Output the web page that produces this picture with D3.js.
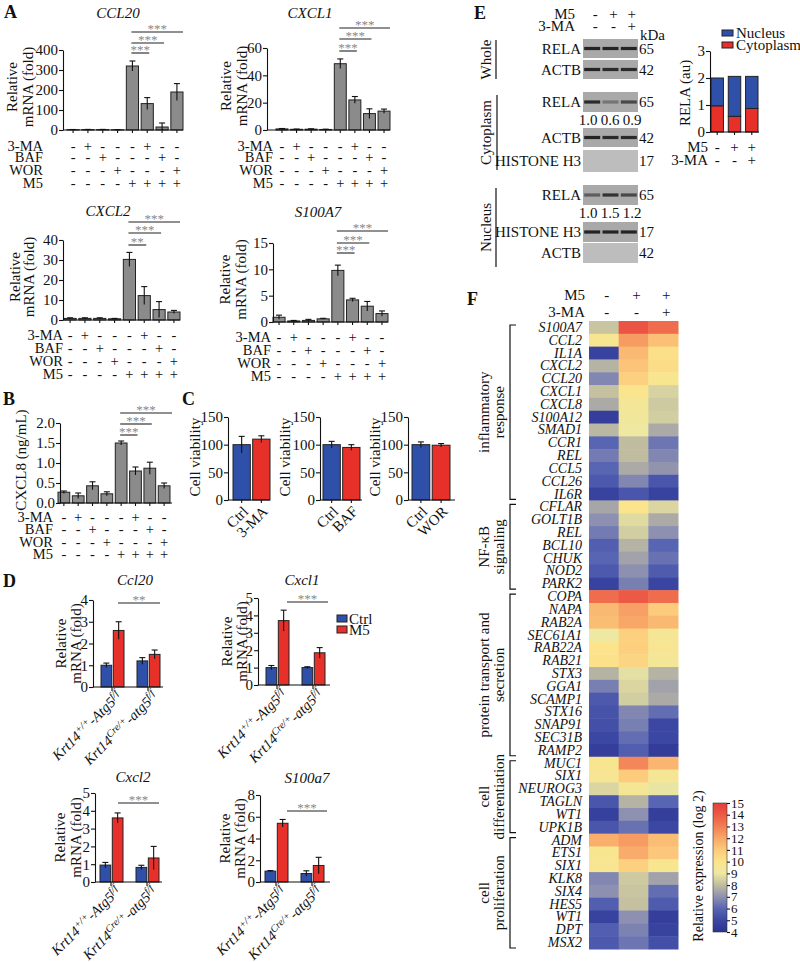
<!DOCTYPE html>
<html><head><meta charset="utf-8">
<script src="https://cdn.jsdelivr.net/npm/d3@7"></script>
<style>
body{margin:0;background:#fff}
svg{display:block}
</style></head><body>
<svg id="fig" width="800" height="962"></svg>
<script>
// ================= DATA =================
const treatRowLabels = ["3-MA","BAF","WOR","M5"];
const sign3MA = ["-","+","-","-","-","+","-","-"];
const signBAF = ["-","-","+","-","-","-","+","-"];
const signWOR = ["-","-","-","+","-","-","-","+"];
const signM5  = ["-","-","-","-","+","+","+","+"];

const ccl20Mean = [1.5,2,2,1,320,132,15,190];
const ccl20Sd   = [1,1,1,1,25,30,20,42];
const ccl20Ticks = [0,100,200,300,400];
const ccl20Stars = ["***","***","***"];

const cxcl1Mean = [0.8,0.5,0.6,0.4,48.5,22,12,13.8];
const cxcl1Sd   = [0.3,0.2,0.3,0.2,3.5,2.5,3.5,1.5];
const cxcl1Ticks = [0,20,40,60];
const cxcl1Stars = ["***","***","***"];

const cxcl2Mean = [0.8,0.8,0.8,0.6,30.3,12.2,5.2,4.0];
const cxcl2Sd   = [0.3,0.3,0.3,0.2,3.5,4.5,4,0.8];
const cxcl2Ticks = [0,10,20,30,40];
const cxcl2Stars = ["**","***","***"];

const s100a7Mean = [0.9,0.2,0.3,0.6,9.8,4.2,3.0,1.6];
const s100a7Sd   = [0.4,0.1,0.2,0.1,1.0,0.3,0.9,0.5];
const s100a7Ticks = [0,5,10,15];
const s100a7Stars = ["***","***","***"];

const cxcl8Mean = [0.27,0.18,0.43,0.23,1.5,0.8,0.87,0.43];
const cxcl8Sd   = [0.03,0.07,0.1,0.05,0.05,0.1,0.15,0.07];
const cxcl8Ticks = [0,0.5,1.0,1.5,2.0];
const cxcl8Stars = ["***","***","***"];

const viabTicks = [0,50,100,150];
const viab3MACats = ["Ctrl","3-MA"]; const viab3MAMean = [100,110]; const viab3MASd = [15,6];
const viabBAFCats = ["Ctrl","BAF"];  const viabBAFMean = [100,95];  const viabBAFSd = [6,5];
const viabWORCats = ["Ctrl","WOR"];  const viabWORMean = [100,99];  const viabWORSd = [5,3];

const dSeries = ["Ctrl","M5"];
const dGenoBase = ["Krt14","Krt14"];
const dGenoSup1 = ["+/+","Cre/+"];
const dGenoMid  = ["-Atg5","-atg5"];
const dGenoSup2 = ["f/f","f/f"];
const dCcl20Ctrl = [1.0,1.2];  const dCcl20CtrlSd = [0.1,0.15];
const dCcl20M5   = [2.6,1.5];  const dCcl20M5Sd   = [0.4,0.2];
const dCxcl1Ctrl = [1.0,1.0];  const dCxcl1CtrlSd = [0.12,0.05];
const dCxcl1M5   = [3.7,1.85]; const dCxcl1M5Sd   = [0.6,0.3];
const dCxcl2Ctrl = [0.95,0.82];const dCxcl2CtrlSd = [0.15,0.12];
const dCxcl2M5   = [3.6,1.35]; const dCxcl2M5Sd   = [0.28,0.65];
const dS100Ctrl  = [1.0,0.78]; const dS100CtrlSd  = [0.05,0.25];
const dS100M5    = [5.4,1.52]; const dS100M5Sd    = [0.35,0.75];
const dTicks4 = [0,1,2,3,4]; const dTicks5 = [0,1,2,3,4,5]; const dTicks8 = [0,2,4,6,8];

const eM5 = ["-","+","+"]; const e3MA = ["-","-","+"];
const blotLabels = ["RELA","ACTB","RELA","ACTB","HISTONE H3","RELA","HISTONE H3","ACTB"];
const blotKda    = ["65","42","65","42","17","65","17","42"];
const blotIntensity = [[0.9,0.9,0.9],[0.9,0.85,0.85],[0.85,0.35,0.65],[0.9,0.85,0.85],[0,0,0],[0.5,0.8,0.65],[0.9,0.9,0.9],[0,0,0]];
const cytoQuant = ["1.0","0.6","0.9"];
const nucQuant  = ["1.0","1.5","1.2"];
const relaCyto = [0.97,0.58,0.87];
const relaNuc  = [1.03,1.48,1.19];
const relaTicks = [0,1,2,3];

const heatM5Signs = ["-","+","+"]; const heat3MASigns = ["-","-","+"];
const heatGenes = ["S100A7","CCL2","IL1A","CXCL2","CCL20","CXCL1","CXCL8","S100A12","SMAD1","CCR1","REL","CCL5","CCL26","IL6R",
 "CFLAR","GOLT1B","REL","BCL10","CHUK","NOD2","PARK2",
 "COPA","NAPA","RAB2A","SEC61A1","RAB22A","RAB21","STX3","GGA1","SCAMP1","STX16","SNAP91","SEC31B","RAMP2",
 "MUC1","SIX1","NEUROG3","TAGLN","WT1","UPK1B",
 "ADM","ETS1","SIX1","KLK8","SIX4","HES5","WT1","DPT","MSX2"];
const heatCtrl = [8.2,9.8,4.8,7.8,6.8,8.1,7.6,4.6,7.9,6.0,6.5,6.0,5.6,4.8,
 7.5,7.0,6.5,5.8,6.0,5.6,4.8,
 13.5,11.5,11.4,9.0,10.0,10.1,7.8,6.6,5.6,5.4,5.3,5.0,4.6,
 9.8,9.7,8.6,5.5,4.7,5.5,
 11.8,9.8,9.7,6.8,7.0,5.8,4.8,5.8,5.6];
const heatM5 = [14.2,12.3,11.5,11.2,10.8,9.9,9.5,9.3,9.1,8.0,8.0,7.6,6.8,5.5,
 10.0,8.7,8.4,7.8,7.4,7.0,6.6,
 14.0,12.2,12.0,10.8,10.8,10.6,8.8,8.6,8.4,6.8,6.6,6.2,5.8,
 12.8,11.0,9.6,7.8,7.0,6.3,
 12.3,11.9,10.8,8.3,8.2,8.1,7.0,6.7,6.4];
const heatM53MA = [13.5,11.3,10.2,10.3,9.8,8.5,8.3,8.4,7.6,6.4,6.8,7.1,5.5,4.8,
 8.6,7.6,7.0,6.0,6.3,5.7,4.9,
 13.5,11.0,11.5,9.6,9.7,9.5,7.8,7.4,7.6,6.2,5.0,5.0,4.5,
 11.6,9.6,8.9,6.0,4.6,5.0,
 11.4,11.1,9.8,7.4,6.2,5.7,4.6,4.8,5.3];
const heatGroupLines = [["inflammatory","response"],["NF-κB","signaling"],["protein transport and","secretion"],["cell","differentiation"],["cell","proliferation"]];
const heatGroupSizes = [14,7,13,6,9];
const colorTicks = [4,5,6,7,8,9,10,11,12,13,14,15];

// ================= DRAWING =================
const SERIF = '"Liberation Serif","Times New Roman",Times,serif';
const FS = 15;
const svg = d3.select("#fig").attr("font-family", SERIF);
const BLUE = "#2f50a8", RED = "#e8302a", GREY = "#8b8b8b", INK = "#111";
const intFmt = d3.format("d");

const defs = svg.append("defs");
defs.append("filter").attr("id","blur").append("feGaussianBlur").attr("stdDeviation",0.6);

function addText(g,x,y,s,o={}){
  const t = g.append("text").attr("x",x).attr("y",y).text(s)
    .attr("font-size",o.size||FS).attr("text-anchor",o.anchor||"start").attr("fill",o.fill||INK);
  if(o.italic) t.attr("font-style","italic");
  if(o.bold) t.attr("font-weight","bold");
  if(o.baseline) t.attr("dominant-baseline",o.baseline);
  return t;
}
function vText(g,x,cy,s,o={}){
  return g.append("text").attr("transform",`translate(${x},${cy}) rotate(-90)`)
    .attr("text-anchor","middle").attr("dominant-baseline","central")
    .attr("font-size",o.size||FS).attr("fill",INK).text(s);
}
function styleAxis(a,size){
  a.attr("font-family",SERIF).attr("font-size",size||FS);
  a.selectAll("text").attr("fill",INK);
  a.selectAll("path,line").attr("stroke",INK).attr("stroke-width",1.1);
}
function yAxis(g,y,x,ticks,fmt){
  const ax = d3.axisLeft(y).tickValues(ticks).tickSize(4).tickSizeOuter(0).tickPadding(1).tickFormat(fmt||intFmt);
  const a = g.append("g").attr("transform",`translate(${x},0)`).call(ax);
  styleAxis(a);
  return a;
}
function xBase(g,scale,x1,x2,y0,tickLen){
  g.append("line").attr("x1",x1).attr("x2",x2).attr("y1",y0).attr("y2",y0).attr("stroke",INK).attr("stroke-width",1.1);
  const a = g.append("g").attr("transform",`translate(0,${y0})`)
    .call(d3.axisBottom(scale).tickSize(tickLen).tickSizeOuter(0).tickFormat(""));
  a.select(".domain").remove();
  styleAxis(a);
}
function errBar(g,cx,y,m,s,cap){
  g.append("line").attr("x1",cx).attr("x2",cx).attr("y1",y(m+s)).attr("y2",y(Math.max(0,m-s)))
    .attr("stroke",INK).attr("stroke-width",1.1);
  g.append("line").attr("x1",cx-cap).attr("x2",cx+cap).attr("y1",y(m+s)).attr("y2",y(m+s))
    .attr("stroke",INK).attr("stroke-width",1.1);
}
function sigLine(g,x1,x2,y,label){
  g.append("line").attr("x1",x1).attr("x2",x2).attr("y1",y).attr("y2",y).attr("stroke","#222").attr("stroke-width",1.1);
  addText(g,(x1+x2)/2,y+1,label,{anchor:"middle",size:13,fill:"#888"});
}

// ---------- Panel A & B (treatment bar charts) ----------
const treatCharts = [
 {title:"CCL20", mean:ccl20Mean, sd:ccl20Sd, ticks:ccl20Ticks, stars:ccl20Stars, max:400,
  axisX:63, xEnd:183, band:[67,183], y0:130, yTop:50, titleX:118, titleY:18, ylab:["Relative","mRNA (fold)"], ylabX:[12,28],
  tblX:43, tblY:[151,162,175,188], sigY:[53,43,32]},
 {title:"CXCL1", mean:cxcl1Mean, sd:cxcl1Sd, ticks:cxcl1Ticks, stars:cxcl1Stars, max:60,
  axisX:267, xEnd:390, band:[276,390], y0:130, yTop:48, titleX:310, titleY:18, ylab:["Relative","mRNA (fold)"], ylabX:[226,242],
  tblX:273, tblY:[151,162,175,188], sigY:[51,39,28]},
 {title:"CXCL2", mean:cxcl2Mean, sd:cxcl2Sd, ticks:cxcl2Ticks, stars:cxcl2Stars, max:40,
  axisX:63, xEnd:180, band:[64,180], y0:320, yTop:240, titleX:108, titleY:216, ylab:["Relative","mRNA (fold)"], ylabX:[15,29],
  tblX:63, tblY:[340,353,366,379], sigY:[245,233,222]},
 {title:"S100A7", mean:s100a7Mean, sd:s100a7Sd, ticks:s100a7Ticks, stars:s100a7Stars, max:15,
  axisX:273, xEnd:388, band:[273,388], y0:322, yTop:243, titleX:318, titleY:217, ylab:["Relative","mRNA (fold)"], ylabX:[225,241],
  tblX:271, tblY:[342,355,368,381], sigY:[253,243,231]},
 {title:null, mean:cxcl8Mean, sd:cxcl8Sd, ticks:cxcl8Ticks, stars:cxcl8Stars, max:2.0, fmt:d3.format(".1f"),
  axisX:60, xEnd:172, band:[58,170], y0:503, yTop:423, ylab:["CXCL8 (ng/mL)"], ylabX:[21],
  tblX:53, tblY:[522,534,547,559], sigY:[435,424,413]}
];
const treatSigns = [sign3MA, signBAF, signWOR, signM5];

treatCharts.forEach(c=>{
  const g = svg.append("g");
  const y = d3.scaleLinear().domain([0,c.max]).range([c.y0,c.yTop]);
  const x = d3.scaleBand().domain(d3.range(c.mean.length)).range(c.band).paddingInner(0.18);
  const cx = i => x(i)+x.bandwidth()/2;
  g.selectAll("rect.bar").data(c.mean).join("rect").attr("class","bar")
    .attr("x",(d,i)=>x(i)).attr("y",d=>y(d)).attr("width",x.bandwidth()).attr("height",d=>c.y0-y(d))
    .attr("fill",GREY).attr("stroke","#222").attr("stroke-width",1);
  c.mean.forEach((m,i)=>errBar(g,cx(i),y,m,c.sd[i],3));
  yAxis(g,y,c.axisX,c.ticks,c.fmt);
  xBase(g,x,c.axisX,c.xEnd,c.y0,3);
  if(c.title) addText(g,c.titleX,c.titleY,c.title,{anchor:"middle",italic:true});
  const cyl = (c.y0+c.yTop)/2 - 3;
  c.ylab.forEach((l,i)=>vText(g,c.ylabX[i],cyl,l));
  treatSigns.forEach((row,ri)=>{
    addText(g,c.tblX,c.tblY[ri],treatRowLabels[ri],{anchor:"end",size:14.5});
    row.forEach((s,i)=>addText(g,cx(i),c.tblY[ri],s,{anchor:"middle",size:14.5}));
  });
  [5,6,7].forEach((k,j)=>{
    sigLine(g,cx(4)-1,k===7?c.xEnd:cx(k)+2,c.sigY[j],c.stars[j]);
  });
});

// ---------- Panel C ----------
const viabCharts = [
 {cats:viab3MACats, mean:viab3MAMean, sd:viab3MASd, axisX:228, xEnd:270, band:[233,270], ylabX:195},
 {cats:viabBAFCats, mean:viabBAFMean, sd:viabBAFSd, axisX:320, xEnd:362, band:[323,360], ylabX:285},
 {cats:viabWORCats, mean:viabWORMean, sd:viabWORSd, axisX:408, xEnd:455, band:[412,450], ylabX:375}
];
viabCharts.forEach(c=>{
  const g = svg.append("g");
  const y0 = 500, yTop = 417;
  const y = d3.scaleLinear().domain([0,150]).range([y0,yTop]);
  const x = d3.scaleBand().domain(c.cats).range(c.band).paddingInner(0.12);
  const cx = d => x(d)+x.bandwidth()/2;
  g.selectAll("rect.bar").data(c.cats).join("rect")
    .attr("x",d=>x(d)).attr("y",(d,i)=>y(c.mean[i])).attr("width",x.bandwidth()).attr("height",(d,i)=>y0-y(c.mean[i]))
    .attr("fill",(d,i)=>i===0?BLUE:RED).attr("stroke","#222").attr("stroke-width",1);
  c.cats.forEach((d,i)=>errBar(g,cx(d),y,c.mean[i],c.sd[i],3));
  yAxis(g,y,c.axisX,viabTicks);
  xBase(g,x,c.axisX,c.xEnd,y0,3);
  vText(g,c.ylabX,457,"Cell viability");
  c.cats.forEach(d=>{
    g.append("text").attr("transform",`translate(${cx(d)},${y0+5}) rotate(-45)`).attr("dy","0.7em")
      .attr("text-anchor","end").attr("font-size",FS).attr("fill",INK).text(d);
  });
});

// ---------- Panel D ----------
const dCharts = [
 {title:"Ccl20", ctrl:dCcl20Ctrl, ctrlSd:dCcl20CtrlSd, m5:dCcl20M5, m5Sd:dCcl20M5Sd, ticks:dTicks4, max:4, stars:"**",
  axisX:93, xEnd:163, grp:[94,166], y0:687, yTop:600, titleX:135, titleY:585, ylabX:[61,76], sigY:603, sigX:[118,160]},
 {title:"Cxcl1", ctrl:dCxcl1Ctrl, ctrlSd:dCxcl1CtrlSd, m5:dCxcl1M5, m5Sd:dCxcl1M5Sd, ticks:dTicks5, max:5, stars:"***",
  axisX:258, xEnd:330, grp:[259,331], y0:685, yTop:598, titleX:302, titleY:585, ylabX:[227,242], sigY:602, sigX:[287,328]},
 {title:"Cxcl2", ctrl:dCxcl2Ctrl, ctrlSd:dCxcl2CtrlSd, m5:dCxcl2M5, m5Sd:dCxcl2M5Sd, ticks:dTicks5, max:5, stars:"***",
  axisX:95, xEnd:162, grp:[93,165], y0:882, yTop:793, titleX:133, titleY:782, ylabX:[60,76], sigY:803, sigX:[118,159]},
 {title:"S100a7", ctrl:dS100Ctrl, ctrlSd:dS100CtrlSd, m5:dS100M5, m5Sd:dS100M5Sd, ticks:dTicks8, max:8, stars:"***",
  axisX:260, xEnd:330, grp:[258,330], y0:882, yTop:795, titleX:307, titleY:783, ylabX:[225,240], sigY:811, sigX:[287,327]}
];
dCharts.forEach(c=>{
  const g = svg.append("g");
  const y = d3.scaleLinear().domain([0,c.max]).range([c.y0,c.yTop]);
  const x0 = d3.scaleBand().domain([0,1]).range(c.grp);
  const x1 = d3.scaleBand().domain(dSeries).range([7,30]).paddingInner(0.13);
  [0,1].forEach(gi=>{
    [[c.ctrl,c.ctrlSd,"Ctrl",BLUE],[c.m5,c.m5Sd,"M5",RED]].forEach(([vals,sds,s,col])=>{
      const bx = x0(gi)+x1(s);
      g.append("rect").attr("x",bx).attr("y",y(vals[gi])).attr("width",x1.bandwidth()).attr("height",c.y0-y(vals[gi]))
        .attr("fill",col).attr("stroke","#222").attr("stroke-width",1);
      errBar(g,bx+x1.bandwidth()/2,y,vals[gi],sds[gi],3);
    });
  });
  yAxis(g,y,c.axisX,c.ticks);
  xBase(g,x0,c.axisX,c.xEnd,c.y0,4);
  addText(g,c.titleX,c.titleY,c.title,{anchor:"middle",italic:true});
  const cyl = (c.y0+c.yTop)/2;
  vText(g,c.ylabX[0],cyl,"Relative"); vText(g,c.ylabX[1],cyl,"mRNA (fold)");
  sigLine(g,c.sigX[0],c.sigX[1],c.sigY,c.stars);
  [0,1].forEach(gi=>{
    const cx = x0(gi)+x0.bandwidth()/2;
    const t = g.append("text").attr("transform",`translate(${cx+3},${c.y0+3}) rotate(-45)`).attr("dy","0.7em")
      .attr("text-anchor","end").attr("font-size",14.5).attr("font-style","italic").attr("fill",INK);
    t.append("tspan").text(dGenoBase[gi]);
    t.append("tspan").attr("font-size",10).attr("dy",-5).text(dGenoSup1[gi]);
    t.append("tspan").attr("dy",5).text(dGenoMid[gi]);
    t.append("tspan").attr("font-size",10).attr("dy",-5).text(dGenoSup2[gi]);
  });
});
// legend D
const dLeg = svg.append("g");
dSeries.forEach((s,i)=>{
  dLeg.append("rect").attr("x",337).attr("y",615+i*11).attr("width",10).attr("height",7)
    .attr("fill",i===0?BLUE:RED).attr("stroke","#222").attr("stroke-width",1);
  addText(dLeg,349,619+i*11,s,{baseline:"central"});
});

// ---------- Panel letters ----------
[["A",4,18],["B",3,405],["C",182,405],["D",3,587],["E",474,19],["F",467,305]].forEach(([l,x,y])=>
  addText(svg,x,y,l,{bold:true,size:18}));

// ---------- Panel E ----------
const eG = svg.append("g");
const lane = d3.scaleBand().domain([0,1,2]).range([583,638]);
const laneC = i => lane(i)+lane.bandwidth()/2;
const quantX = d3.scalePoint().domain([0,1,2]).range([588,632]);
addText(eG,575,19,"M5",{anchor:"end"});
addText(eG,575,31,"3-MA",{anchor:"end"});
eM5.forEach((s,i)=>addText(eG,laneC(i)+3,19,s,{anchor:"middle"}));
e3MA.forEach((s,i)=>addText(eG,laneC(i)+3,31,s,{anchor:"middle"}));
addText(eG,640,40,"kDa");
const blotBoxes = [[39,58],[60,79],[92,112],[128,147],[150,172],[185,205],[222,242],[243,263]];
blotLabels.forEach((lab,i)=>{
  const [t,b] = blotBoxes[i];
  const empty = blotIntensity[i].every(v=>v===0);
  eG.append("rect").attr("x",583).attr("y",t).attr("width",55).attr("height",b-t).attr("fill",empty?"#bdbdbd":"#a9a9a9");
  blotIntensity[i].forEach((v,j)=>{
    if(v>0) eG.append("rect").attr("x",laneC(j)-8).attr("y",(t+b)/2-1.6).attr("width",16).attr("height",3.2)
      .attr("fill","#151515").attr("opacity",v).attr("filter","url(#blur)");
  });
  addText(eG,581,(t+b)/2,lab,{anchor:"end",baseline:"central"});
  addText(eG,639,(t+b)/2,blotKda[i],{baseline:"central"});
});
cytoQuant.forEach((q,i)=>addText(eG,quantX(i),125,q,{anchor:"middle"}));
nucQuant.forEach((q,i)=>addText(eG,quantX(i),218,q,{anchor:"middle"}));
[["Whole",40,79,496],["Cytoplasm",95,170,497],["Nucleus",188,267,496]].forEach(([s,t,b,lx])=>{
  eG.append("line").attr("x1",lx).attr("x2",lx).attr("y1",t).attr("y2",b).attr("stroke",INK).attr("stroke-width",1.2);
  vText(eG,486,(t+b)/2,s);
});
// stacked bar
{
  const g = svg.append("g");
  const y0 = 132, yTop = 51;
  const y = d3.scaleLinear().domain([0,3]).range([y0,yTop]);
  const x = d3.scaleBand().domain([0,1,2]).range([711,758]).paddingInner(0.28);
  const stack = d3.stack().keys(["cyto","nuc"])(relaCyto.map((c,i)=>({cyto:c,nuc:relaNuc[i]})));
  stack.forEach((layer,li)=>{
    g.selectAll(null).data(layer).join("rect")
      .attr("x",(d,i)=>x(i)).attr("y",d=>y(d[1])).attr("width",x.bandwidth()).attr("height",d=>y(d[0])-y(d[1]))
      .attr("fill",li===0?RED:BLUE).attr("stroke","#222").attr("stroke-width",1);
  });
  yAxis(g,y,710,relaTicks);
  xBase(g,x,710,759,y0,3);
  vText(g,685,93,"RELA (au)");
  addText(g,708,147,"M5",{anchor:"end",baseline:"central"});
  addText(g,708,160,"3-MA",{anchor:"end",baseline:"central"});
  eM5.forEach((s,i)=>addText(g,x(i)+x.bandwidth()/2,147,s,{anchor:"middle",baseline:"central"}));
  e3MA.forEach((s,i)=>addText(g,x(i)+x.bandwidth()/2,160,s,{anchor:"middle",baseline:"central"}));
  [["Nucleus",BLUE,33],["Cytoplasm",RED,45]].forEach(([s,col,cy])=>{
    g.append("rect").attr("x",722).attr("y",cy-3).attr("width",11).attr("height",6).attr("fill",col).attr("stroke","#222").attr("stroke-width",1);
    addText(g,736,cy,s,{baseline:"central"});
  });
}

// ---------- Panel F heatmap ----------
{
  const g = svg.append("g");
  const color = d3.scaleLinear().domain(colorTicks)
    .range(["#2b338f","#3b47a3","#5865b3","#8d90b0","#bfbca0","#ede8a2","#fbe48c","#fccb7c","#f8a768","#f27f55","#ec5a45","#e63c38"]);
  const xs = d3.scaleBand().domain([0,1,2]).range([589,678]);
  const ys = d3.scaleBand().domain(d3.range(heatGenes.length)).range([321,949]);
  const cols = [heatCtrl, heatM5, heatM53MA];
  cols.forEach((vals,ci)=>{
    g.selectAll(null).data(vals).join("rect")
      .attr("x",xs(ci)).attr("y",(d,i)=>ys(i)).attr("width",xs.bandwidth()+0.5).attr("height",ys.bandwidth()+0.5)
      .attr("fill",d=>color(d));
  });
  heatGenes.forEach((gname,i)=>addText(g,582,ys(i)+ys.bandwidth()/2,gname,{anchor:"end",baseline:"central",italic:true,size:14}));
  addText(g,585,295,"M5",{anchor:"end",baseline:"central"});
  addText(g,585,312,"3-MA",{anchor:"end",baseline:"central"});
  heatM5Signs.forEach((s,i)=>addText(g,xs(i)+xs.bandwidth()/2+3,295,s,{anchor:"middle",baseline:"central"}));
  heat3MASigns.forEach((s,i)=>addText(g,xs(i)+xs.bandwidth()/2+3,312,s,{anchor:"middle",baseline:"central"}));
  let start = 0;
  heatGroupSizes.forEach((n,gi)=>{
    const top = ys(start)+4, bot = ys(start+n-1)+ys.bandwidth()-1;
    g.append("path").attr("d",`M516,${top}H510V${bot}H516`).attr("fill","none").attr("stroke",INK).attr("stroke-width",1.2);
    const cy = (top+bot)/2;
    vText(g,484,cy,heatGroupLines[gi][0]);
    vText(g,499,cy,heatGroupLines[gi][1]);
    start += n;
  });
  // colorbar
  const cb = d3.scaleLinear().domain([4,15]).range([932,803]);
  const grad = defs.append("linearGradient").attr("id","cbgrad").attr("x1",0).attr("y1",1).attr("x2",0).attr("y2",0);
  colorTicks.forEach(v=>grad.append("stop").attr("offset",(v-4)/11).attr("stop-color",color(v)));
  g.append("rect").attr("x",713).attr("y",803).attr("width",14).attr("height",129).attr("fill","url(#cbgrad)")
    .attr("stroke","#333").attr("stroke-width",0.6);
  const ca = g.append("g").attr("transform","translate(727,0)")
    .call(d3.axisRight(cb).tickValues(colorTicks).tickSize(3).tickPadding(1).tickSizeOuter(0).tickFormat(intFmt));
  ca.select(".domain").remove();
  styleAxis(ca,13);
  vText(g,698,866,"Relative expression (log 2)",{size:14});
}
</script>
</body></html>
